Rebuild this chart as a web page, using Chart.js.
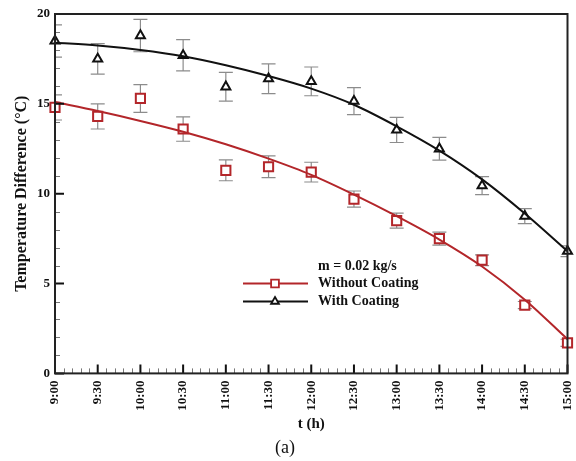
<!DOCTYPE html>
<html>
<head>
<meta charset="utf-8">
<script src="https://cdn.jsdelivr.net/npm/chart.js@4/dist/chart.umd.min.js"></script>
<style>
  body { margin: 0; background: #fff; }
  #wrap { width: 576px; height: 461px; position: relative; }
</style>
</head>
<body>
<div id="wrap"><canvas id="chart"></canvas></div>
<script>
const timeLabels = ['9:00', '9:30', '10:00', '10:30', '11:00', '11:30', '12:00', '12:30', '13:00', '13:30', '14:00', '14:30', '15:00'];
const withoutCoating = [14.8, 14.3, 15.3, 13.6, 11.3, 11.5, 11.2, 9.7, 8.5, 7.5, 6.3, 3.8, 1.7];
const withoutErr = [0.7, 0.7, 0.77, 0.68, 0.58, 0.6, 0.55, 0.45, 0.42, 0.36, 0.3, 0.2, 0.2];
const withCoating = [18.5, 17.5, 18.8, 17.7, 15.95, 16.4, 16.25, 15.15, 13.55, 12.5, 10.45, 8.75, 6.8];
const withErr = [0.9, 0.85, 0.9, 0.87, 0.8, 0.83, 0.8, 0.75, 0.7, 0.63, 0.5, 0.42, 0.3];
const fitWithout = [15.1, 14.6, 14.05, 13.45, 12.75, 11.95, 11.05, 9.95, 8.75, 7.45, 5.95, 4.1, 1.9];
const fitWith = [18.4, 18.25, 18.0, 17.65, 17.15, 16.55, 15.85, 14.95, 13.75, 12.4, 10.8, 8.9, 6.8];
const legendTitle = 'm = 0.02 kg/s';

const RED = '#b3262a';
const BLACK = '#111';
const FONT = 'Liberation Serif';

Chart.defaults.font.family = FONT;
Chart.defaults.color = BLACK;

// error bars under the markers
const errorBars = {
  id: 'errorBars',
  beforeDatasetsDraw(chart) {
    const { ctx, chartArea, scales: { x, y } } = chart;
    ctx.save();
    ctx.beginPath();
    ctx.rect(chartArea.left, chartArea.top, chartArea.right - chartArea.left, chartArea.bottom - chartArea.top);
    ctx.clip();
    ctx.strokeStyle = '#8c8c8c';
    ctx.lineWidth = 1.2;
    [[withoutCoating, withoutErr], [withCoating, withErr]].forEach(([vals, errs]) => {
      vals.forEach((v, i) => {
        const px = x.getPixelForValue(i);
        const top = y.getPixelForValue(v + errs[i]);
        const bot = y.getPixelForValue(v - errs[i]);
        ctx.beginPath();
        ctx.moveTo(px, top); ctx.lineTo(px, bot);
        ctx.moveTo(px - 7, top); ctx.lineTo(px + 7, top);
        ctx.moveTo(px - 7, bot); ctx.lineTo(px + 7, bot);
        ctx.stroke();
      });
    });
    ctx.restore();
  }
};

// frame, inward ticks and the legend box
const frame = {
  id: 'frame',
  afterDraw(chart) {
    const { ctx, chartArea: a, scales: { x, y } } = chart;
    ctx.save();
    // minor ticks
    ctx.strokeStyle = '#777';
    ctx.lineWidth = 1;
    ctx.beginPath();
    for (let i = 0; i < timeLabels.length - 1; i++) {
      for (let k = 1; k < 5; k++) {
        const px = Math.round(x.getPixelForValue(i + k / 5)) + 0.5;
        ctx.moveTo(px, a.bottom); ctx.lineTo(px, a.bottom - 5);
      }
    }
    for (let v = 0; v <= 20; v++) {
      if (v % 5 === 0) continue;
      const py = Math.round(y.getPixelForValue(v)) + 0.5;
      ctx.moveTo(a.left, py); ctx.lineTo(a.left + 5, py);
    }
    ctx.stroke();
    // major ticks
    ctx.strokeStyle = BLACK;
    ctx.lineWidth = 2;
    ctx.beginPath();
    timeLabels.forEach((_, i) => {
      const px = x.getPixelForValue(i);
      ctx.moveTo(px, a.bottom); ctx.lineTo(px, a.bottom - 9);
    });
    for (let v = 0; v <= 20; v += 5) {
      const py = y.getPixelForValue(v);
      ctx.moveTo(a.left, py); ctx.lineTo(a.left + 9, py);
    }
    ctx.stroke();
    ctx.strokeStyle = '#222';
    ctx.strokeRect(a.left, a.top, a.right - a.left, a.bottom - a.top);

    // legend
    const lx = a.left + 188, tx = a.left + 263;
    const rows = [
      { y: y.getPixelForValue(5.0), color: RED, style: 'rect', r: 5.5, label: chart.data.datasets[0].label },
      { y: y.getPixelForValue(4.0), color: BLACK, style: 'triangle', r: 4.5, label: chart.data.datasets[1].label }
    ];
    ctx.font = 'bold 14px ' + FONT;
    ctx.fillStyle = BLACK;
    ctx.textBaseline = 'middle';
    ctx.textAlign = 'left';
    ctx.fillText(legendTitle, tx, y.getPixelForValue(5.95));
    rows.forEach(r => {
      ctx.strokeStyle = r.color;
      ctx.lineWidth = 2;
      ctx.beginPath();
      ctx.moveTo(lx, r.y); ctx.lineTo(lx + 65, r.y);
      ctx.stroke();
      ctx.fillStyle = '#fff';
      ctx.lineWidth = 1.8;
      Chart.helpers.drawPoint(ctx, { pointStyle: r.style, radius: r.r, borderWidth: 1.8 }, lx + 32, r.y);
      ctx.fillStyle = BLACK;
      ctx.fillText(r.label, tx, r.y);
    });
    ctx.restore();
  }
};

new Chart(document.getElementById('chart'), {
  type: 'line',
  data: {
    labels: timeLabels,
    datasets: [
      { label: 'Without Coating', data: fitWithout, borderColor: RED, borderWidth: 2, pointRadius: 0, cubicInterpolationMode: 'monotone' },
      { label: 'With Coating', data: fitWith, borderColor: BLACK, borderWidth: 2, pointRadius: 0, cubicInterpolationMode: 'monotone' },
      { label: 'Without Coating (data)', data: withoutCoating, showLine: false, pointStyle: 'rect', pointRadius: 6.5, pointBorderWidth: 2, borderColor: RED, backgroundColor: '#fff' },
      { label: 'With Coating (data)', data: withCoating, showLine: false, pointStyle: 'triangle', pointRadius: 5.2, pointBorderWidth: 2, borderColor: BLACK, backgroundColor: '#fff' }
    ]
  },
  options: {
    responsive: true,
    maintainAspectRatio: false,
    animation: false,
    layout: { padding: { top: 14, right: 6, left: 0, bottom: 0 } },
    plugins: {
      legend: { display: false },
      tooltip: { enabled: false },
      title: {
        display: true, position: 'bottom', text: '(a)', color: BLACK,
        font: { family: FONT, size: 18, weight: 'normal' },
        padding: { top: 0, bottom: 2 }
      }
    },
    scales: {
      x: {
        offset: false,
        grid: { display: false, drawTicks: false },
        border: { display: false },
        ticks: { minRotation: 90, maxRotation: 90, autoSkip: false, padding: 7, color: BLACK, font: { size: 13, weight: 'bold' } },
        title: { display: true, text: 't (h)', color: BLACK, font: { size: 15, weight: 'bold' }, padding: { top: 0, bottom: 4 } },
        afterFit(s) { s.height = 64; s.paddingLeft = 0; s.paddingRight = 0; }
      },
      y: {
        min: 0, max: 20,
        grid: { display: false, drawTicks: false },
        border: { display: false },
        ticks: { stepSize: 5, padding: 5, color: BLACK, font: { size: 13, weight: 'bold' } },
        title: { display: true, text: 'Temperature Difference (°C)', color: BLACK, font: { size: 16, weight: 'bold' }, padding: { top: 12, bottom: 0 } },
        afterFit(s) { s.width = 55; }
      }
    }
  },
  plugins: [errorBars, frame]
});
</script>
</body>
</html>
